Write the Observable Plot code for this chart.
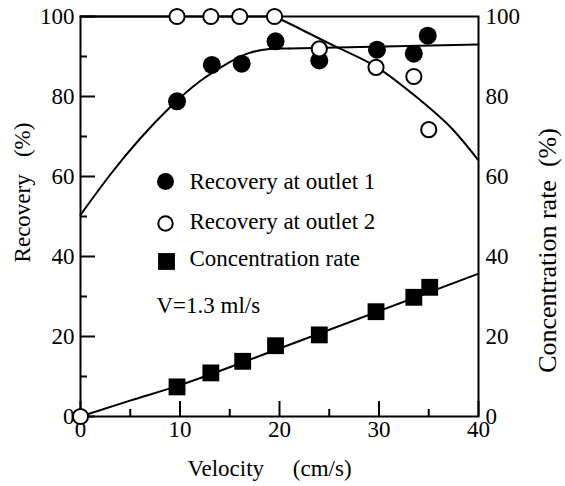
<!DOCTYPE html>
<html><head><meta charset="utf-8">
<script src="https://cdn.jsdelivr.net/npm/d3@7"></script>
<script src="https://cdn.jsdelivr.net/npm/@observablehq/plot@0.6"></script>
<style>
body{margin:0;background:#fff;}
svg text {font-family:"Liberation Serif","DejaVu Serif",serif !important;}
</style>
</head><body><div id="chart"></div>
<script>
// measured points
const outlet1X = [9.7, 13.2, 16.2, 19.6, 24.0, 29.8, 33.5, 34.9];
const outlet1Y = [78.8, 87.9, 88.2, 93.8, 89.0, 91.7, 90.7, 95.2];
const outlet2X = [9.7, 13.1, 16.0, 19.5, 24.0, 29.7, 33.5, 35.0];
const outlet2Y = [100, 100, 100, 100, 91.9, 87.3, 85.0, 71.7];
const concX = [9.7, 13.1, 16.3, 19.6, 24.0, 29.7, 33.5, 35.1];
const concY = [7.4, 10.9, 13.8, 17.7, 20.4, 26.2, 29.8, 32.3];
const originX = [0];
const originY = [0];
// fitted curves
const fit1CurveX = [0, 3, 6, 9, 12, 15, 17, 19, 21];
const fit1CurveY = [50.4, 60.5, 69.5, 77.3, 83.8, 88.6, 90.9, 91.9, 92.0];
const fit1FlatX = [21, 40];
const fit1FlatY = [92.0, 93];
const fit2FlatX = [0, 19.5];
const fit2FlatY = [100, 100];
const fit2CurveX = [19.5, 22, 25.8, 29.8, 33.8, 37.2, 40];
const fit2CurveY = [100, 97, 92.3, 87.3, 79.8, 72.3, 64];
const concLineX = [0, 4.9, 9.7, 20, 40];
const concLineY = [0, 3.9, 7.6, 17, 35.7];
// ticks and labels
const majorY = [0, 20, 40, 60, 80, 100];
const minorY = [10, 30, 50, 70, 90];
const majorX = [0, 10, 20, 30, 40];
const minorX = [5, 15, 25, 35];
const legendLabels = ["Recovery at outlet 1", "Recovery at outlet 2", "Concentration rate"];
const note = "V=1.3 ml/s";
const xTitle = "Velocity\u2003\u00a0(cm/s)";
const yTitle = "Recovery\u00a0\u00a0\u00a0(%)";
const y2Title = "Concentration rate\u00a0\u00a0(%)";

const zip = (xs, ys) => xs.map((x, i) => ({x, y: ys[i]}));
const FS = 23;
const FONT = "'Liberation Serif', 'DejaVu Serif', serif";

const chart = Plot.plot({
  width: 565, height: 486,
  marginLeft: 80, marginRight: 87, marginTop: 16, marginBottom: 70,
  style: {fontFamily: FONT, fontSize: FS + "px", color: "black", background: "white"},
  x: {domain: [0, 40]},
  y: {domain: [0, 100]},
  marks: [
    Plot.line(zip(fit1CurveX, fit1CurveY), {x: "x", y: "y", curve: "natural", strokeWidth: 2, stroke: "black"}),
    Plot.line(zip(fit1FlatX, fit1FlatY), {x: "x", y: "y", strokeWidth: 2, stroke: "black"}),
    Plot.line(zip(fit2FlatX, fit2FlatY), {x: "x", y: "y", strokeWidth: 2, stroke: "black"}),
    Plot.line(zip(fit2CurveX, fit2CurveY), {x: "x", y: "y", curve: "natural", strokeWidth: 2, stroke: "black"}),
    Plot.line(zip(concLineX, concLineY), {x: "x", y: "y", curve: "monotone-x", strokeWidth: 2, stroke: "black"}),
    Plot.frame({stroke: "black", strokeWidth: 2}),
    Plot.axisY({anchor: "left", ticks: majorY, tickSize: -15, tickFormat: () => "", label: null, strokeWidth: 2}),
    Plot.axisY({anchor: "left", ticks: minorY, tickSize: -7, tickFormat: () => "", label: null, strokeWidth: 2}),
    Plot.axisY({anchor: "left", ticks: majorY, tickSize: 0, tickPadding: 6, label: null, fontSize: FS, fontFamily: FONT}),
    Plot.axisY({anchor: "right", ticks: majorY, tickSize: 0, tickPadding: 7, label: null, fontSize: FS, fontFamily: FONT}),
    Plot.axisX({anchor: "bottom", ticks: majorX, tickSize: -15, tickFormat: () => "", label: null, strokeWidth: 2}),
    Plot.axisX({anchor: "bottom", ticks: minorX, tickSize: -7, tickFormat: () => "", label: null, strokeWidth: 2}),
    Plot.axisX({anchor: "bottom", ticks: majorX, tickSize: 0, tickPadding: 4, label: null, fontSize: FS, fontFamily: FONT}),
    Plot.dot(zip(concX, concY), {x: "x", y: "y", symbol: "square", r: 9.5, fill: "black"}),
    Plot.dot(zip(outlet1X, outlet1Y), {x: "x", y: "y", r: 9, fill: "black"}),
    Plot.dot(zip(outlet2X, outlet2Y), {x: "x", y: "y", r: 7.6, fill: "white", stroke: "black", strokeWidth: 2}),
    Plot.dot(zip(originX, originY), {x: "x", y: "y", r: 7.6, fill: "white", stroke: "black", strokeWidth: 2}),
    // legend
    Plot.dot([legendLabels[0]], {frameAnchor: "top-left", dx: 85, dy: 165, r: 8.5, fill: "black"}),
    Plot.dot([legendLabels[1]], {frameAnchor: "top-left", dx: 85, dy: 207, r: 7.2, fill: "white", stroke: "black", strokeWidth: 2}),
    Plot.dot([legendLabels[2]], {frameAnchor: "top-left", dx: 86, dy: 245, symbol: "square", r: 9.5, fill: "black"}),
    Plot.text([legendLabels[0]], {text: d => d, frameAnchor: "top-left", dx: 109, dy: 165, textAnchor: "start", lineAnchor: "middle", fontSize: FS, fontFamily: FONT}),
    Plot.text([legendLabels[1]], {text: d => d, frameAnchor: "top-left", dx: 109, dy: 205, textAnchor: "start", lineAnchor: "middle", fontSize: FS, fontFamily: FONT}),
    Plot.text([legendLabels[2]], {text: d => d, frameAnchor: "top-left", dx: 109, dy: 242, textAnchor: "start", lineAnchor: "middle", fontSize: FS, fontFamily: FONT}),
    Plot.text([note], {text: d => d, frameAnchor: "top-left", dx: 76, dy: 289, textAnchor: "start", lineAnchor: "middle", fontSize: FS, fontFamily: FONT}),
    // axis titles
    Plot.text([xTitle], {text: d => d, frameAnchor: "bottom", dx: -10, dy: 52, textAnchor: "middle", lineAnchor: "middle", fontSize: FS, fontFamily: FONT}),
    Plot.text([yTitle], {text: d => d, frameAnchor: "left", dx: -58, dy: -24, rotate: -90, textAnchor: "middle", lineAnchor: "middle", fontSize: FS, fontFamily: FONT}),
    Plot.text([y2Title], {text: d => d, frameAnchor: "right", dx: 69, dy: 34, rotate: -90, textAnchor: "middle", lineAnchor: "middle", fontSize: 26, fontFamily: FONT})
  ]
});
document.getElementById("chart").appendChild(chart);
</script>
</body></html>
